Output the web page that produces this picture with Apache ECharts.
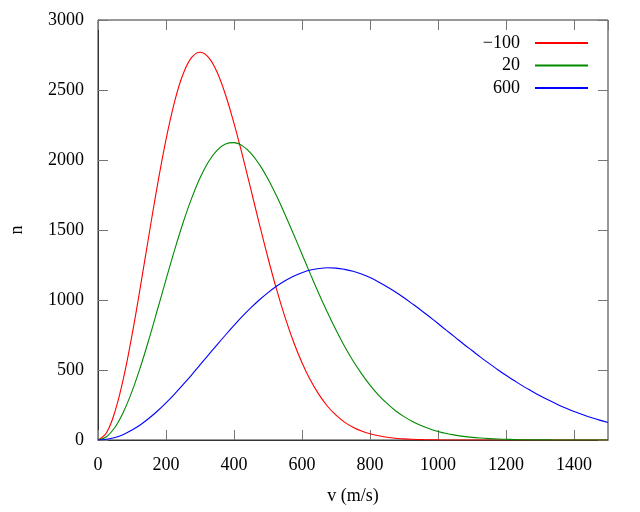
<!DOCTYPE html>
<html>
<head>
<meta charset="utf-8">
<script src="https://cdn.jsdelivr.net/npm/echarts@6/dist/echarts.min.js"></script>
<style>html,body{margin:0;padding:0;background:#fff}#c{width:640px;height:512px}</style>
</head>
<body>
<div id="c"></div>
<script>
const speeds = [0,25,50,75,100,125,150,175,200,225,250,275,300,325,350,375,400,425,450,475,500,525,550,575,600,625,650,675,700,725,750,775,800,825,850,875,900,925,950,975,1000,1025,1050,1075,1100,1125,1150,1175,1200,1225,1250,1275,1300,1325,1350,1375,1400,1425,1450,1475,1500];
const seriesNames = ['\u2212100', '20', '600'];
const valsM100 = [0,52,204,442,749,1099,1466,1823,2146,2414,2612,2731,2770,2733,2628,2466,2261,2031,1786,1539,1300,1078,878,702,552,426,324,241,177,128,91,64,44,30,20,13,8,5,3,2,1,0,0,0,0,0,0,0,0,0,0,0,0,0,0,0,0,0,0,0,0];
const vals20 = [0,23,91,201,347,523,721,932,1146,1355,1550,1724,1872,1987,2069,2114,2124,2101,2048,1967,1864,1744,1611,1471,1327,1183,1043,910,785,670,566,474,392,321,261,209,167,132,103,80,61,46,35,26,19,14,10,7,5,3,2,1,1,1,0,0,0,0,0,0,0];
const vals600 = [0,5,18,40,71,109,155,207,265,328,395,464,536,608,680,750,818,884,945,1002,1053,1098,1137,1170,1195,1214,1225,1230,1228,1219,1205,1185,1160,1129,1095,1057,1016,972,927,880,832,783,735,686,639,592,547,504,462,423,385,350,316,285,256,229,204,182,161,142,125];
const colors = ['#ff0000', '#008a00', '#0000ff'];

const font = 'Liberation Serif';
const allVals = [valsM100, vals20, vals600];
const chart = echarts.init(document.getElementById('c'), null, {renderer: 'canvas'});
function ticks() { return {show: true, inside: true, length: 10, lineStyle: {color: '#777', width: 1}}; }
chart.setOption({
  animation: false,
  backgroundColor: '#fff',
  grid: {left: 98, right: 32, top: 20, bottom: 72, containLabel: false, outerBoundsMode: 'none',
         show: true, borderColor: '#333', borderWidth: 1, backgroundColor: 'transparent'},
  legend: {
    orient: 'vertical', right: 47, top: 29, align: 'right',
    itemWidth: 53, itemHeight: 2, itemGap: 4.5, icon: 'rect',
    textStyle: {fontFamily: font, fontSize: 18, color: '#000', padding: [0, 10, 0, 0]},
    data: seriesNames
  },
  xAxis: [{
    type: 'value', min: 0, max: 1500, interval: 200,
    name: 'v (m/s)', nameLocation: 'middle', nameGap: 47,
    nameTextStyle: {fontFamily: font, fontSize: 18, color: '#000'},
    axisLine: {show: true, onZero: false, lineStyle: {color: '#333'}},
    axisTick: ticks(),
    axisLabel: {fontFamily: font, fontSize: 18, color: '#000', margin: 16, showMaxLabel: false,
                formatter: v => String(v)},
    splitLine: {show: false}
  }, {
    type: 'value', min: 0, max: 1500, interval: 200, position: 'top',
    axisLine: {show: false, onZero: false}, axisTick: ticks(), axisLabel: {show: false}, splitLine: {show: false}
  }],
  yAxis: [{
    type: 'value', min: 0, max: 3000, interval: 500,
    name: 'n', nameLocation: 'middle', nameGap: 72, nameRotate: 90,
    nameTextStyle: {fontFamily: font, fontSize: 18, color: '#000'},
    axisLine: {show: true, onZero: false, lineStyle: {color: '#333'}},
    axisTick: ticks(),
    axisLabel: {fontFamily: font, fontSize: 18, color: '#000', margin: 14, formatter: v => String(v)},
    splitLine: {show: false}
  }, {
    type: 'value', min: 0, max: 3000, interval: 500, position: 'right',
    axisLine: {show: false, onZero: false}, axisTick: ticks(), axisLabel: {show: false}, splitLine: {show: false}
  }],
  series: seriesNames.map((n, i) => ({
    name: n, type: 'line', smooth: 0.4, symbol: 'none',
    xAxisIndex: 0, yAxisIndex: 0,
    lineStyle: {color: colors[i], width: 1.1},
    itemStyle: {color: colors[i]},
    data: speeds.map((v, j) => [v, allVals[i][j]])
  }))
});
</script>
</body>
</html>
